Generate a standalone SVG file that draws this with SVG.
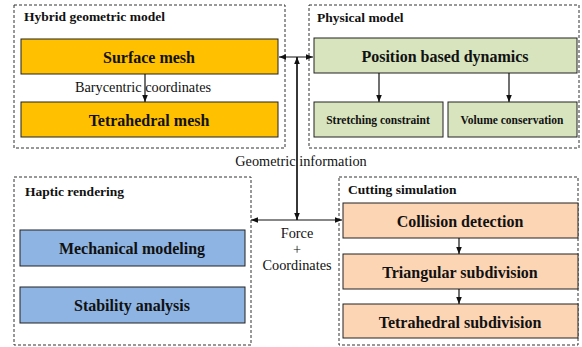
<svg xmlns="http://www.w3.org/2000/svg" width="582" height="347" viewBox="0 0 582 347" font-family="'Liberation Serif', 'Times New Roman', serif">
<style>
.grp{fill:none;stroke:#333;stroke-width:1;stroke-dasharray:3,2}
.box{stroke:#222;stroke-width:1}
.or{fill:#FFC000}
.gr{fill:#D7E4BD}
.bl{fill:#8EB4E3}
.pe{fill:#FCD5B5}
text{font-family:'Liberation Serif','Times New Roman',serif;fill:#111}
.t{font-size:13.5px;font-weight:bold}
.b{font-size:16px;font-weight:bold;text-anchor:middle;dominant-baseline:central}
.s{font-size:11.5px;font-weight:bold;text-anchor:middle;dominant-baseline:central}
.l{font-size:14.3px;text-anchor:middle;dominant-baseline:central}
.c{stroke:#111;stroke-width:1.2;fill:none}
</style>
<defs>
<marker id="ah" viewBox="0 0 10 10" refX="10" refY="5" markerWidth="7" markerHeight="7" orient="auto-start-reverse" markerUnits="userSpaceOnUse">
<path d="M0,1 L10,5 L0,9 z" fill="#111"/>
</marker>
</defs>
<rect x="0" y="0" width="582" height="347" fill="#fff"/>

<g id="hybrid">
<rect class="grp" x="14" y="5" width="271" height="143"/>
<text class="t" x="24" y="21">Hybrid geometric model</text>
</g>
<g id="surface-mesh">
<rect class="box or" x="21" y="39" width="257" height="35"/>
<text class="b" x="149" y="57">Surface mesh</text>
</g>
<g id="tetra-mesh">
<rect class="box or" x="21" y="102" width="257" height="35"/>
<text class="b" x="149" y="120">Tetrahedral mesh</text>
</g>

<g id="physical">
<rect class="grp" x="309" y="5" width="270" height="143"/>
<text class="t" x="317" y="22">Physical model</text>
</g>
<g id="pbd">
<rect class="box gr" x="314" y="38" width="263" height="35"/>
<text class="b" x="445" y="56">Position based dynamics</text>
</g>
<g id="stretching">
<rect class="box gr" x="314" y="102" width="129" height="35"/>
<text class="s" x="378" y="120">Stretching constraint</text>
</g>
<g id="volume">
<rect class="box gr" x="448" y="102" width="129" height="35"/>
<text class="s" x="512" y="120">Volume conservation</text>
</g>

<g id="haptic">
<rect class="grp" x="14" y="177" width="237" height="168"/>
<text class="t" x="25" y="196">Haptic rendering</text>
</g>
<g id="mechanical">
<rect class="box bl" x="20" y="230" width="225" height="36"/>
<text class="b" x="132" y="248">Mechanical modeling</text>
</g>
<g id="stability">
<rect class="box bl" x="20" y="287" width="225" height="36"/>
<text class="b" x="132" y="305">Stability analysis</text>
</g>

<g id="cutting">
<rect class="grp" x="339" y="177" width="239" height="168"/>
<text class="t" x="348" y="194">Cutting simulation</text>
</g>
<g id="collision">
<rect class="box pe" x="343" y="203" width="235" height="35"/>
<text class="b" x="460" y="221">Collision detection</text>
</g>
<g id="triangular">
<rect class="box pe" x="343" y="254" width="235" height="35"/>
<text class="b" x="460" y="272">Triangular subdivision</text>
</g>
<g id="tetra-sub">
<rect class="box pe" x="343" y="304" width="235" height="34"/>
<text class="b" x="460" y="322">Tetrahedral subdivision</text>
</g>

<g id="connectors">
<line class="c" x1="145" y1="74" x2="145" y2="102" marker-end="url(#ah)"/>
<line class="c" x1="379" y1="73" x2="379" y2="102" marker-end="url(#ah)"/>
<line class="c" x1="509" y1="73" x2="509" y2="102" marker-end="url(#ah)"/>
<line class="c" x1="459" y1="238" x2="459" y2="254" marker-end="url(#ah)"/>
<line class="c" x1="459" y1="289" x2="459" y2="304" marker-end="url(#ah)"/>
<line class="c" x1="279" y1="57" x2="313" y2="57" marker-start="url(#ah)" marker-end="url(#ah)"/>
<line class="c" x1="297" y1="220" x2="297" y2="57" marker-end="url(#ah)"/>
<line class="c" x1="297" y1="57" x2="297" y2="220" marker-end="url(#ah)"/>
<line class="c" x1="251" y1="220" x2="342" y2="220" marker-start="url(#ah)" marker-end="url(#ah)"/>
<text class="l" x="143" y="87">Barycentric coordinates</text>
<text class="l" x="301" y="161">Geometric information</text>
<text class="l" x="297" y="233">Force</text>
<text class="l" x="297" y="249">+</text>
<text class="l" x="297" y="265">Coordinates</text>
</g>
</svg>
